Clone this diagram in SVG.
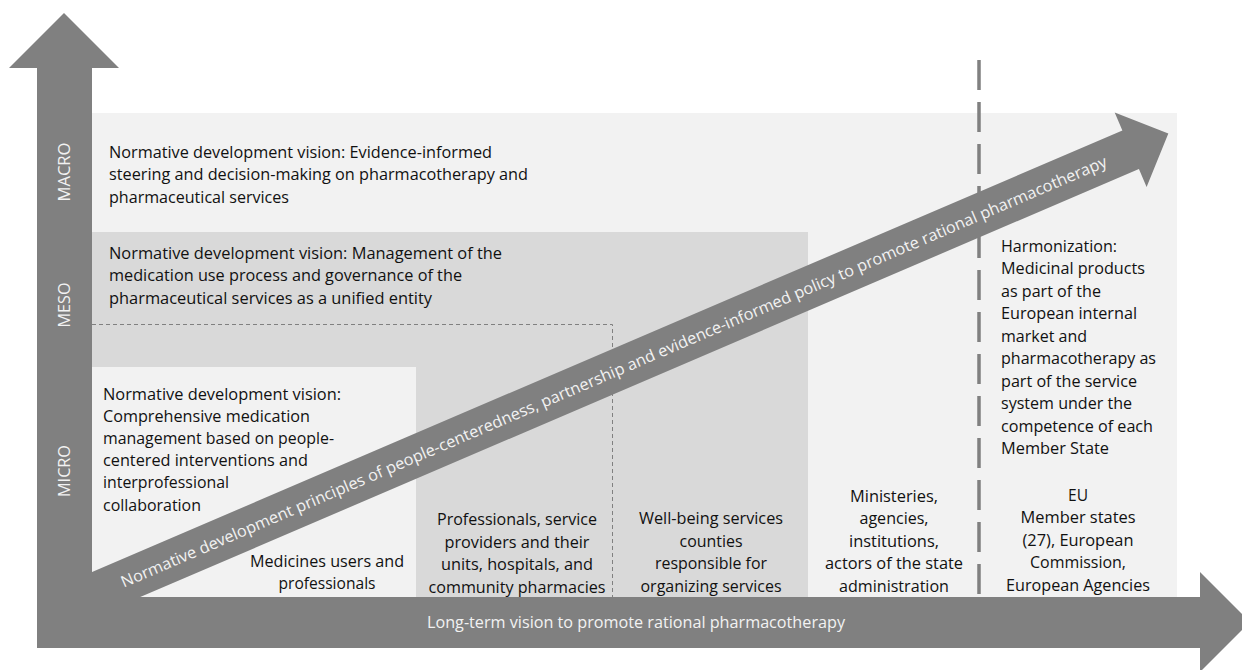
<svg xmlns="http://www.w3.org/2000/svg" width="1242" height="670" viewBox="0 0 1242 670">
  <defs>
    <style>
      .t { font-family: "Open Sans", "Liberation Sans", sans-serif; font-size: 16px; fill: #111111; }
      .w { fill: #f2f2f2; }
      .c { text-anchor: middle; }
      .ax { font-family: "Open Sans", "Liberation Sans", sans-serif; font-size: 16px; fill: #f2f2f2; text-anchor: middle; }
      .light { fill: #f2f2f2; }
      .mid { fill: #d9d9d9; }
      .arrow { fill: #808080; }
      .thin-dash { fill: none; stroke: #808080; stroke-width: 1; stroke-dasharray: 4 3; }
      .thick-dash { fill: none; stroke: #808080; stroke-width: 3.5; stroke-dasharray: 30 12; }
    </style>
  </defs>

  <rect width="1242" height="670" fill="#ffffff"/>

  <!-- MACRO level panel -->
  <g id="macro">
    <rect class="light" x="92" y="113" width="1085" height="484"/>
    <text class="t"><tspan x="109" y="158" textLength="383" lengthAdjust="spacingAndGlyphs">Normative development vision: Evidence-informed</tspan><tspan x="109" y="180" textLength="419" lengthAdjust="spacingAndGlyphs">steering and decision-making on pharmacotherapy and</tspan><tspan x="109" y="203" textLength="180" lengthAdjust="spacingAndGlyphs">pharmaceutical services</tspan></text>
  </g>

  <!-- MESO level panel -->
  <g id="meso">
    <rect class="mid" x="92" y="232" width="716" height="365"/>
    <text class="t"><tspan x="109" y="259" textLength="393" lengthAdjust="spacingAndGlyphs">Normative development vision: Management of the</tspan><tspan x="109" y="281" textLength="353" lengthAdjust="spacingAndGlyphs">medication use process and governance of the</tspan><tspan x="109" y="304" textLength="323" lengthAdjust="spacingAndGlyphs">pharmaceutical services as a unified entity</tspan></text>
  </g>

  <!-- MICRO level panel -->
  <g id="micro">
    <rect class="light" x="92" y="367" width="324" height="230"/>
    <text class="t"><tspan x="103" y="400" textLength="238" lengthAdjust="spacingAndGlyphs">Normative development vision:</tspan><tspan x="103" y="422" textLength="207" lengthAdjust="spacingAndGlyphs">Comprehensive medication</tspan><tspan x="103" y="444" textLength="231" lengthAdjust="spacingAndGlyphs">management based on people-</tspan><tspan x="103" y="466" textLength="205" lengthAdjust="spacingAndGlyphs">centered interventions and</tspan><tspan x="103" y="488" textLength="126" lengthAdjust="spacingAndGlyphs">interprofessional</tspan><tspan x="103" y="511" textLength="98" lengthAdjust="spacingAndGlyphs">collaboration</tspan></text>
  </g>

  <!-- dashed boundary of the regional level -->
  <g id="regional-boundary">
    <path class="thin-dash" d="M92 324.5 H612.5 V597"/>
  </g>

  <!-- dashed boundary between national and EU level -->
  <g id="eu-boundary">
    <path class="thick-dash" d="M979 60 V597"/>
  </g>

  <!-- actors along the horizontal axis -->
  <g id="actors-users">
    <text class="t c"><tspan x="327" y="567" textLength="154" lengthAdjust="spacingAndGlyphs">Medicines users and</tspan><tspan x="327" y="589" textLength="97" lengthAdjust="spacingAndGlyphs">professionals</tspan></text>
  </g>
  <g id="actors-providers">
    <text class="t c"><tspan x="517" y="525" textLength="160" lengthAdjust="spacingAndGlyphs">Professionals, service</tspan><tspan x="517" y="548" textLength="145" lengthAdjust="spacingAndGlyphs">providers and their</tspan><tspan x="517" y="570" textLength="152" lengthAdjust="spacingAndGlyphs">units, hospitals, and</tspan><tspan x="517" y="593" textLength="177" lengthAdjust="spacingAndGlyphs">community pharmacies</tspan></text>
  </g>
  <g id="actors-counties">
    <text class="t c"><tspan x="711" y="524" textLength="144" lengthAdjust="spacingAndGlyphs">Well-being services</tspan><tspan x="711" y="547" textLength="63" lengthAdjust="spacingAndGlyphs">counties</tspan><tspan x="711" y="569" textLength="112" lengthAdjust="spacingAndGlyphs">responsible for</tspan><tspan x="711" y="592" textLength="141" lengthAdjust="spacingAndGlyphs">organizing services</tspan></text>
  </g>
  <g id="actors-state">
    <text class="t c"><tspan x="894" y="502" textLength="88" lengthAdjust="spacingAndGlyphs">Ministeries,</tspan><tspan x="894" y="524" textLength="69" lengthAdjust="spacingAndGlyphs">agencies,</tspan><tspan x="894" y="547" textLength="90" lengthAdjust="spacingAndGlyphs">institutions,</tspan><tspan x="894" y="569" textLength="138" lengthAdjust="spacingAndGlyphs">actors of the state</tspan><tspan x="894" y="592" textLength="110" lengthAdjust="spacingAndGlyphs">administration</tspan></text>
  </g>
  <g id="actors-eu">
    <text class="t c"><tspan x="1078" y="501" textLength="20" lengthAdjust="spacingAndGlyphs">EU</tspan><tspan x="1078" y="523" textLength="115" lengthAdjust="spacingAndGlyphs">Member states</tspan><tspan x="1078" y="546" textLength="111" lengthAdjust="spacingAndGlyphs">(27), European</tspan><tspan x="1078" y="568" textLength="96" lengthAdjust="spacingAndGlyphs">Commission,</tspan><tspan x="1078" y="591" textLength="144" lengthAdjust="spacingAndGlyphs">European Agencies</tspan></text>
  </g>

  <!-- EU harmonization note -->
  <g id="harmonization">
    <text class="t"><tspan x="1001" y="252" textLength="116" lengthAdjust="spacingAndGlyphs">Harmonization:</tspan><tspan x="1001" y="274" textLength="144" lengthAdjust="spacingAndGlyphs">Medicinal products</tspan><tspan x="1001" y="297" textLength="100" lengthAdjust="spacingAndGlyphs">as part of the</tspan><tspan x="1001" y="319" textLength="136" lengthAdjust="spacingAndGlyphs">European internal</tspan><tspan x="1001" y="342" textLength="86" lengthAdjust="spacingAndGlyphs">market and</tspan><tspan x="1001" y="364" textLength="155" lengthAdjust="spacingAndGlyphs">pharmacotherapy as</tspan><tspan x="1001" y="387" textLength="136" lengthAdjust="spacingAndGlyphs">part of the service</tspan><tspan x="1001" y="409" textLength="131" lengthAdjust="spacingAndGlyphs">system under the</tspan><tspan x="1001" y="432" textLength="152" lengthAdjust="spacingAndGlyphs">competence of each</tspan><tspan x="1001" y="454" textLength="108" lengthAdjust="spacingAndGlyphs">Member State</tspan></text>
  </g>

  <!-- arrows: diagonal principle arrow and the two axes -->
  <g id="connectors">
    <g id="principles-arrow" transform="translate(100.3 591.3) rotate(-23.2)">
      <polygon class="arrow" points="-12,-21 1121,-21 1121,-40.5 1162,0 1121,40.5 1121,21 -12,21"/>
      <text class="t w" x="23" y="6" textLength="1071" lengthAdjust="spacingAndGlyphs">Normative development principles of people-centeredness, partnership and evidence-informed policy to promote rational pharmacotherapy</text>
    </g>
    <g id="level-axis">
      <polygon class="arrow" points="37,648 37,68 9,68 64,13 119,68 92,68 92,648"/>
      <text class="ax" transform="translate(70 172) rotate(-90)" textLength="59" lengthAdjust="spacingAndGlyphs">MACRO</text>
      <text class="ax" transform="translate(70 305) rotate(-90)" textLength="45" lengthAdjust="spacingAndGlyphs">MESO</text>
      <text class="ax" transform="translate(70 471) rotate(-90)" textLength="52" lengthAdjust="spacingAndGlyphs">MICRO</text>
    </g>
    <g id="time-axis">
      <polygon class="arrow" points="37,597 1200,597 1200,572 1250,622 1200,672 1200,648 37,648"/>
      <text class="t w" x="427" y="628" textLength="418" lengthAdjust="spacingAndGlyphs">Long-term vision to promote rational pharmacotherapy</text>
    </g>
  </g>
</svg>
